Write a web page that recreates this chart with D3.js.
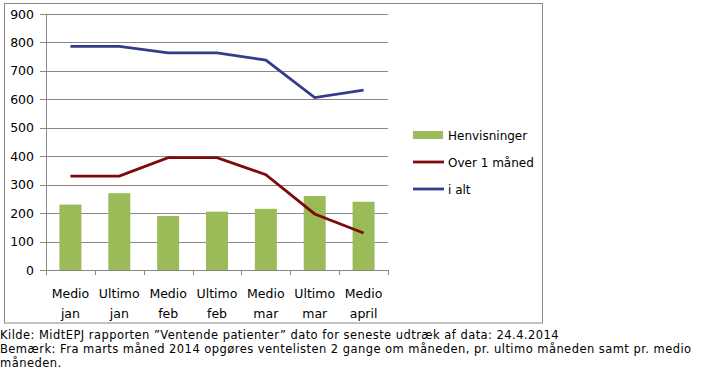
<!DOCTYPE html>
<html>
<head>
<meta charset="utf-8">
<script src="https://cdn.jsdelivr.net/npm/d3@7"></script>
<style>
  body { margin: 0; background: #fff; }
  svg { display: block; }
</style>
</head>
<body>
<script>
const categories = ["Medio jan", "Ultimo jan", "Medio feb", "Ultimo feb", "Medio mar", "Ultimo mar", "Medio april"];
const henvisninger = [230, 270, 190, 205, 215, 260, 240];
const over1 = [330, 330, 395, 395, 335, 197, 130];
const ialt = [786, 786, 763, 763, 738, 606, 632];
const yTicks = [0, 100, 200, 300, 400, 500, 600, 700, 800, 900];
const notes = [
  "Kilde: MidtEPJ rapporten \u201dVentende patienter\u201d dato for seneste udtræk af data: 24.4.2014",
  "Bemærk: Fra marts måned 2014 opgøres ventelisten 2 gange om måneden, pr. ultimo måneden samt pr. medio",
  "måneden."
];

const svg = d3.select('body')
  .append('svg')
  .attr('width', 710)
  .attr('height', 387)

// chart frame
svg.append('rect')
  .attr('x', 4.5).attr('y', 3.5)
  .attr('width', 538).attr('height', 319.5)
  .attr('fill', 'none').attr('stroke', '#888').attr('stroke-width', 1)

const plotLeft = 46, plotRight = 388, plotTop = 14, plotBottom = 270;

const x = d3.scaleBand().domain(categories).range([plotLeft, plotRight])
const y = d3.scaleLinear().domain([0, 900]).range([plotBottom, plotTop])

// gridlines
svg.append('g')
  .selectAll('line')
  .data(yTicks)
  .join('line')
  .attr('x1', plotLeft - 6).attr('x2', plotRight)
  .attr('y1', d => Math.round(y(d)) + 0.5).attr('y2', d => Math.round(y(d)) + 0.5)
  .attr('stroke', '#888')

// y labels
svg.append('g')
  .selectAll('text')
  .data(yTicks)
  .join('text')
  .attr('x', 34).attr('y', d => y(d) + 4.5)
  .attr('text-anchor', 'end')
  .attr('font-family', 'DejaVu Sans, Verdana, sans-serif')
  .attr('font-size', '12.5px')
  .attr('fill', '#000')
  .text(d => d)

// y axis line
svg.append('line')
  .attr('x1', plotLeft + 0.5).attr('x2', plotLeft + 0.5)
  .attr('y1', plotTop).attr('y2', plotBottom)
  .attr('stroke', '#888')

// x ticks at band edges
const edges = categories.map(c => x(c)).concat([plotRight])
svg.append('g')
  .selectAll('line')
  .data(edges)
  .join('line')
  .attr('x1', d => Math.round(d) + 0.5).attr('x2', d => Math.round(d) + 0.5)
  .attr('y1', plotBottom).attr('y2', plotBottom + 5)
  .attr('stroke', '#888')

// bars
const bw = x.bandwidth() * 0.45
svg.append('g')
  .selectAll('rect')
  .data(henvisninger)
  .join('rect')
  .attr('x', (d, i) => x(categories[i]) + x.bandwidth() / 2 - bw / 2)
  .attr('width', bw)
  .attr('y', d => y(d))
  .attr('height', d => y(0) - y(d))
  .attr('fill', '#9BBB59')

const line = d3.line()
  .x((d, i) => x(categories[i]) + x.bandwidth() / 2)
  .y(d => y(d))

svg.append('path')
  .attr('d', line(over1))
  .attr('fill', 'none').attr('stroke', '#7E0B0B').attr('stroke-width', 2.8)

svg.append('path')
  .attr('d', line(ialt))
  .attr('fill', 'none').attr('stroke', '#363A8D').attr('stroke-width', 2.8)

// x labels
const xl = svg.append('g')
  .selectAll('text')
  .data(categories)
  .join('text')
  .attr('x', d => x(d) + x.bandwidth() / 2)
  .attr('y', 298)
  .attr('text-anchor', 'middle')
  .attr('font-family', 'DejaVu Sans, Verdana, sans-serif')
  .attr('font-size', '12.5px')
  .attr('fill', '#000')
xl.append('tspan').attr('x', d => x(d) + x.bandwidth() / 2).text(d => d.split(' ')[0])
xl.append('tspan').attr('x', d => x(d) + x.bandwidth() / 2).attr('dy', 19.5).text(d => d.split(' ')[1])

// legend
const legend = [
  { name: "Henvisninger", color: '#9BBB59', type: 'bar' },
  { name: "Over 1 måned", color: '#7E0B0B', type: 'line' },
  { name: "i alt", color: '#363A8D', type: 'line' }
]
const lg = svg.append('g')
  .selectAll('g')
  .data(legend)
  .join('g')
  .attr('transform', (d, i) => `translate(413, ${135 + i * 27})`)
lg.filter(d => d.type === 'bar').append('rect')
  .attr('x', 0).attr('y', -4).attr('width', 30).attr('height', 8)
  .attr('fill', d => d.color)
lg.filter(d => d.type === 'line').append('line')
  .attr('x1', 0).attr('x2', 31).attr('y1', 0).attr('y2', 0)
  .attr('stroke', d => d.color).attr('stroke-width', 2.8)
lg.append('text')
  .attr('x', 35).attr('y', 4.5)
  .attr('font-family', 'DejaVu Sans, Verdana, sans-serif')
  .attr('font-size', '12px')
  .attr('fill', '#000')
  .text(d => d.name)

// notes
svg.append('g')
  .selectAll('text')
  .data(notes)
  .join('text')
  .attr('x', 0)
  .attr('y', (d, i) => 339 + i * 14)
  .attr('font-family', 'DejaVu Sans, Verdana, sans-serif')
  .attr('font-size', '11.5px')
  .attr('letter-spacing', '0.45px')
  .attr('fill', '#000')
  .text(d => d)
</script>
</body>
</html>
